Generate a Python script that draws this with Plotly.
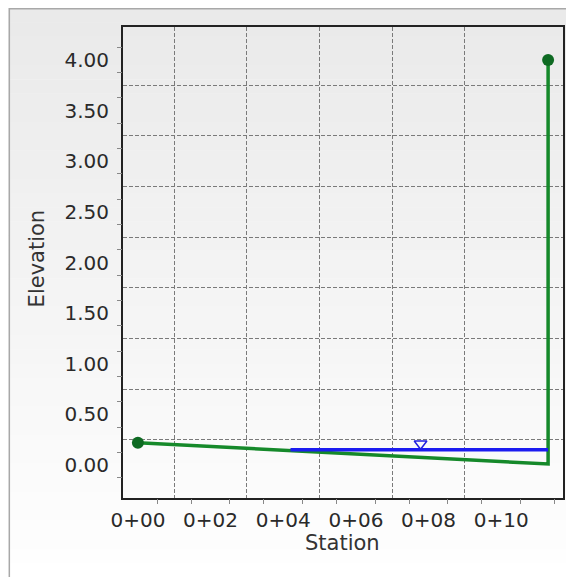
import plotly.graph_objects as go

# ---- data ----
ground_station = [0.0, 11.29, 11.29]
ground_elev = [0.22, 0.01, 4.00]
water_station = [4.2, 11.29]
water_elev = [0.15, 0.15]
wse_marker_station = [7.78]
wse_marker_elev = [0.21]

x_tick_vals = [0, 2, 4, 6, 8, 10]
x_tick_text = ["0+00", "0+02", "0+04", "0+06", "0+08", "0+10"]
y_tick_vals = [0, 0.5, 1.0, 1.5, 2.0, 2.5, 3.0, 3.5, 4.0]
y_tick_text = ["0.00", "0.50", "1.00", "1.50", "2.00", "2.50", "3.00", "3.50", "4.00"]
x_grid_vals = [1, 3, 5, 7, 9]
y_grid_vals = [0.25, 0.75, 1.25, 1.75, 2.25, 2.75, 3.25, 3.75]
x_minor_ticks = [0.53, 1.47, 2.53, 3.47, 4.53, 5.47, 6.53, 7.47, 8.53, 9.47, 10.53, 11.47]
y_minor_ticks = [-0.125, 0.125, 0.375, 0.625, 0.875, 1.125, 1.375, 1.625, 1.875,
                 2.125, 2.375, 2.625, 2.875, 3.125, 3.375, 3.625, 3.875, 4.125]

x_range = [-0.41, 11.7]
y_range = [-0.326, 4.326]

# page body has an 8px margin, so the figure is placed at (8, 8)
W, H = 566, 569
ML, MR, MT, MB = 115, 9, 19, 79
PW, PH = W - ML - MR, H - MT - MB


def px(x):
    return (x - ML) / PW


def py(y):
    return (H - MB - y) / PH


FONT = "DejaVu Sans"

fig = go.Figure()

fig.add_trace(go.Scatter(x=ground_station, y=ground_elev, mode="lines",
                         line=dict(color="#15892a", width=3.5), hoverinfo="skip"))
fig.add_trace(go.Scatter(x=water_station, y=water_elev, mode="lines",
                         line=dict(color="#1c1cf0", width=3.5), hoverinfo="skip"))
fig.add_trace(go.Scatter(x=[ground_station[0], ground_station[-1]],
                         y=[ground_elev[0], ground_elev[-1]], mode="markers",
                         marker=dict(color="#0e6a22", size=12), hoverinfo="skip"))
fig.add_trace(go.Scatter(x=wse_marker_station, y=wse_marker_elev, mode="markers",
                         marker=dict(symbol="triangle-down-open", color="#2020e0", size=11,
                                     line=dict(width=1.5)), hoverinfo="skip"))
# invisible trace for the tick overlay axes
fig.add_trace(go.Scatter(x=x_range, y=y_range, xaxis="x2", yaxis="y2", mode="markers",
                         marker=dict(opacity=0), hoverinfo="skip"))

# gradient background bands
shapes = []
n = 40
top, bot = 0, H
for i in range(n):
    y0 = top + (bot - top) * i / n
    y1 = top + (bot - top) * (i + 1) / n
    t = i / (n - 1)
    c = int(234 + (255 - 234) * t)
    shapes.append(dict(type="rect", xref="paper", yref="paper", layer="below",
                       x0=px(0), x1=px(W + 20), y0=py(y0), y1=py(y1) - 0.001,
                       fillcolor=f"rgb({c},{c},{c})", line=dict(width=0)))
shapes.append(dict(type="rect", xref="paper", yref="paper", layer="below",
                   x0=px(0.8), x1=px(W + 20), y0=py(0.8), y1=py(H + 20),
                   fillcolor="rgba(0,0,0,0)", line=dict(color="#a8a8a8", width=1.5)))

tick_font = dict(family=FONT, size=20, color="#2a2a2a")
title_font = dict(family=FONT, size=21, color="#333333")

annotations = [
    dict(text="Station", xref="paper", yref="paper", x=px(335), y=py(535),
         xanchor="center", yanchor="middle", showarrow=False, font=title_font),
    dict(text="Elevation", xref="paper", yref="paper", x=px(29), y=py(250),
         xanchor="center", yanchor="middle", showarrow=False, font=title_font,
         textangle=-90),
]

fig.update_layout(
    width=W, height=H,
    margin=dict(l=ML, r=MR, t=MT, b=MB),
    paper_bgcolor="white",
    plot_bgcolor="rgba(0,0,0,0)",
    showlegend=False,
    shapes=shapes,
    annotations=annotations,
    xaxis=dict(range=x_range, tickvals=x_tick_vals, ticktext=x_tick_text,
               showgrid=False, zeroline=False, ticks="", tickfont=tick_font,
               showline=True, linecolor="#222222", linewidth=2, mirror=True,
               ticklabelstandoff=3,
               minor=dict(tickvals=x_grid_vals, showgrid=True, gridcolor="#7a7a7a",
                          gridwidth=1, griddash="4px,2px", ticks="")),
    yaxis=dict(range=y_range, tickvals=y_tick_vals, ticktext=y_tick_text,
               showgrid=False, zeroline=False, ticks="", tickfont=tick_font,
               showline=True, linecolor="#222222", linewidth=2, mirror=True,
               ticklabelstandoff=8,
               minor=dict(tickvals=y_grid_vals, showgrid=True, gridcolor="#7a7a7a",
                          gridwidth=1, griddash="4px,2px", ticks="")),
    xaxis2=dict(range=x_range, overlaying="x", anchor="y2", side="bottom",
                tickvals=x_minor_ticks, ticks="outside", ticklen=5, tickcolor="#888888",
                showticklabels=False, showgrid=False, zeroline=False, showline=False),
    yaxis2=dict(range=y_range, overlaying="y", anchor="x2", side="left",
                tickvals=y_minor_ticks, ticks="outside", ticklen=5, tickcolor="#888888",
                showticklabels=False, showgrid=False, zeroline=False, showline=False),
)

fig.write_html("out.html")
